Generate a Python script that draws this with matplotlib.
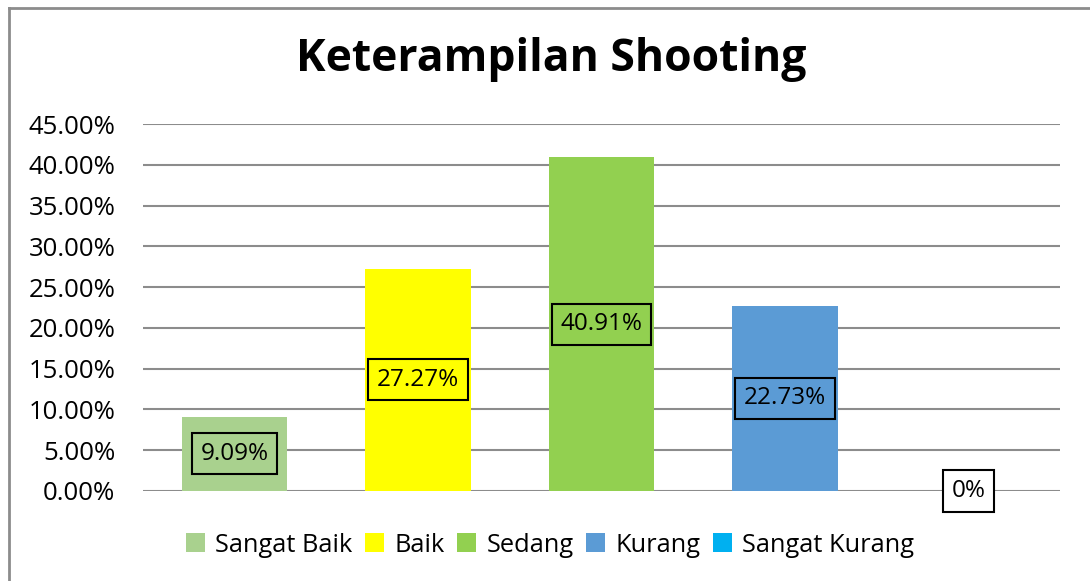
import matplotlib

matplotlib.use("Agg")

import matplotlib.pyplot as plt
from matplotlib.lines import Line2D
from matplotlib.patches import Patch
from matplotlib.ticker import PercentFormatter

plt.rcParams["font.family"] = ["Open Sans", "DejaVu Sans"]

categories = ["Sangat Baik", "Baik", "Sedang", "Kurang", "Sangat Kurang"]
values = [9.09, 27.27, 40.91, 22.73, 0.0]
labels = ["9.09%", "27.27%", "40.91%", "22.73%", "0%"]
colors = ["#a9d18e", "#ffff00", "#92d050", "#5b9bd5", "#00b0f0"]
label_bg = ["#a9d18e", "#ffff00", "#92d050", "#5b9bd5", "white"]

fig = plt.figure(figsize=(10.9, 5.81), dpi=100)
ax = fig.add_axes([143 / 1090, 1 - 491 / 581, 917 / 1090, 367 / 581])

x = range(len(categories))
ax.bar(x, values, width=0.575, color=colors, zorder=3)

for xi, v, lab, bg in zip(x, values, labels, label_bg):
    ax.text(xi, v / 2, lab, ha="center", va="center", fontsize=17.5, zorder=4,
            bbox=dict(boxstyle="square,pad=0.35", facecolor=bg,
                      edgecolor="black", linewidth=1.5))

ax.set_xlim(-0.5, 4.5)
ax.set_ylim(0, 45)
ax.set_yticks(range(0, 46, 5))
ax.yaxis.set_major_formatter(PercentFormatter(decimals=2))
ax.set_xticks([])
ax.tick_params(axis="y", length=0, labelsize=18.5, pad=20)
ax.grid(axis="y", color="#8c8c8c", linewidth=1.5, zorder=0)
for s in ax.spines.values():
    s.set_visible(False)

fig.suptitle("Keterampilan Shooting", x=551 / 1090, y=1 - 60 / 581,
             va="center", fontsize=32, fontweight="bold")

handles = [Patch(facecolor=c) for c in colors]
fig.legend(handles, categories, loc="center", bbox_to_anchor=(550 / 1090, 1 - 545 / 581),
           ncol=5, frameon=False, fontsize=18.3, handlelength=0.75, handleheight=0.75,
           handletextpad=0.4, columnspacing=0.5)

# only top and left edges of the chart border are visible
fig.add_artist(Line2D([9 / 1090, 1], [1 - 8 / 581, 1 - 8 / 581],
                      transform=fig.transFigure, color="#8c8c8c", linewidth=2))
fig.add_artist(Line2D([9 / 1090, 9 / 1090], [0, 1 - 8 / 581],
                      transform=fig.transFigure, color="#8c8c8c", linewidth=2))

fig.savefig("out.png")
plt.close(fig)
